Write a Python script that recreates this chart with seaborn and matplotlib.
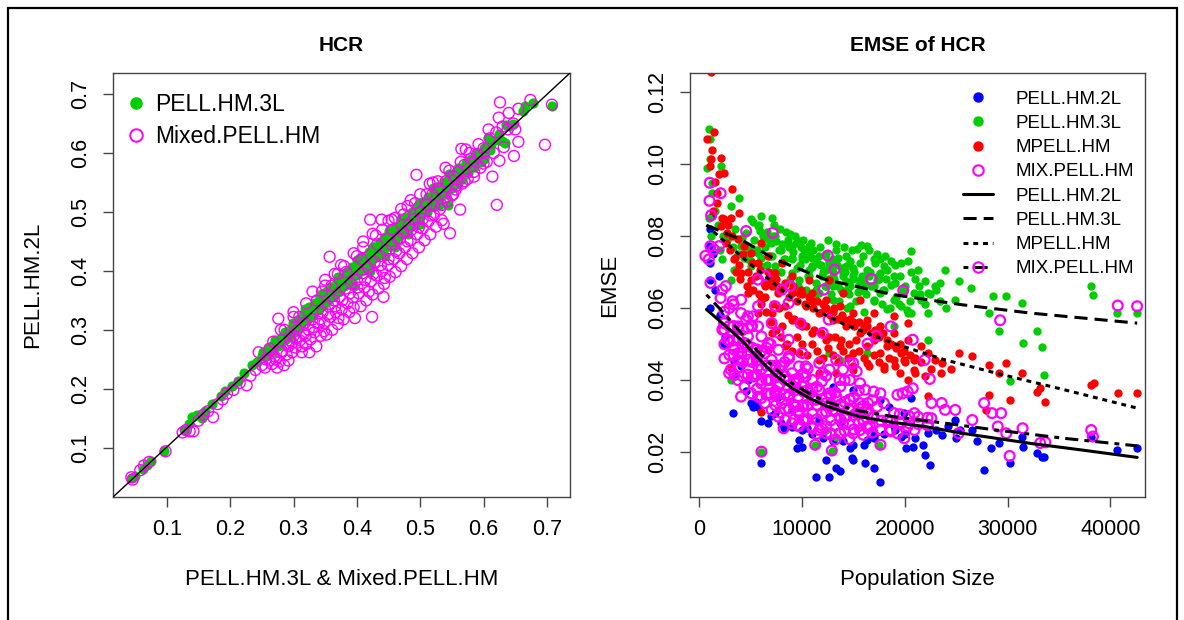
import matplotlib
matplotlib.use("Agg")
import matplotlib.pyplot as plt
import matplotlib.patches as mpatches
from matplotlib.lines import Line2D
import seaborn as sns

# ---------------- data: left panel (HCR) ----------------
hcr3l_x = [0.045, 0.050, 0.062, 0.068, 0.075, 0.096, 0.128, 0.135, 0.140, 0.148, 0.155, 0.160, 0.172, 0.185,
           0.192, 0.203, 0.212, 0.222, 0.235, 0.243, 0.250, 0.256, 0.260, 0.264, 0.268, 0.272, 0.276, 0.280,
           0.284, 0.288, 0.292, 0.296, 0.300, 0.303, 0.306, 0.310, 0.313, 0.316, 0.320, 0.323, 0.327, 0.330,
           0.333, 0.336, 0.340, 0.343, 0.346, 0.350, 0.353, 0.356, 0.360, 0.363, 0.366, 0.370, 0.373, 0.376,
           0.380, 0.383, 0.386, 0.390, 0.393, 0.396, 0.400, 0.403, 0.406, 0.410, 0.413, 0.416, 0.420, 0.423,
           0.426, 0.430, 0.433, 0.436, 0.440, 0.443, 0.446, 0.450, 0.453, 0.456, 0.460, 0.463, 0.466, 0.470,
           0.473, 0.476, 0.480, 0.483, 0.486, 0.490, 0.493, 0.496, 0.500, 0.503, 0.506, 0.510, 0.513, 0.516,
           0.520, 0.523, 0.526, 0.530, 0.533, 0.536, 0.540, 0.544, 0.546, 0.550, 0.554, 0.558, 0.562, 0.566,
           0.570, 0.575, 0.580, 0.585, 0.590, 0.596, 0.600, 0.604, 0.607, 0.612, 0.618, 0.625, 0.629, 0.634,
           0.636, 0.640, 0.646, 0.663, 0.666, 0.678, 0.708,
           0.318, 0.345, 0.370, 0.400, 0.425, 0.450, 0.470, 0.500, 0.520, 0.545, 0.560,
           0.395, 0.420, 0.445, 0.480, 0.500, 0.530, 0.460,
           0.252, 0.257, 0.262, 0.267, 0.271, 0.276, 0.281, 0.286, 0.290, 0.295, 0.299, 0.304, 0.308, 0.312,
           0.317, 0.321, 0.325, 0.329, 0.334, 0.338, 0.342, 0.347, 0.351, 0.355, 0.359, 0.364, 0.368, 0.372,
           0.376, 0.381, 0.385, 0.389, 0.393, 0.398, 0.402, 0.406, 0.410, 0.415, 0.419, 0.423, 0.427, 0.432,
           0.436, 0.440, 0.444, 0.449, 0.453, 0.457, 0.461, 0.466, 0.470, 0.474, 0.478, 0.483, 0.487, 0.491,
           0.495, 0.500, 0.504, 0.508, 0.512, 0.517, 0.521, 0.525, 0.529, 0.534, 0.538, 0.542, 0.546, 0.551,
           0.555, 0.559, 0.563, 0.568, 0.572, 0.576, 0.580, 0.585, 0.590, 0.595, 0.600, 0.610]
hcr3l_y = [0.048, 0.052, 0.064, 0.070, 0.078, 0.095, 0.130, 0.140, 0.152, 0.155, 0.150, 0.163, 0.175, 0.188,
           0.196, 0.205, 0.214, 0.226, 0.240, 0.246, 0.256, 0.262, 0.266, 0.262, 0.274, 0.278, 0.272, 0.286,
           0.290, 0.284, 0.298, 0.300, 0.296, 0.309, 0.312, 0.305, 0.318, 0.322, 0.316, 0.329, 0.332, 0.326,
           0.340, 0.342, 0.336, 0.349, 0.352, 0.346, 0.360, 0.362, 0.355, 0.369, 0.372, 0.364, 0.380, 0.383,
           0.374, 0.390, 0.392, 0.384, 0.400, 0.402, 0.394, 0.410, 0.412, 0.404, 0.420, 0.422, 0.412, 0.430,
           0.432, 0.424, 0.440, 0.442, 0.432, 0.450, 0.452, 0.442, 0.460, 0.462, 0.452, 0.470, 0.472, 0.462,
           0.480, 0.482, 0.470, 0.490, 0.492, 0.480, 0.500, 0.502, 0.490, 0.510, 0.512, 0.500, 0.520, 0.522,
           0.510, 0.530, 0.532, 0.520, 0.540, 0.542, 0.530, 0.512, 0.552, 0.540, 0.560, 0.548, 0.568, 0.556,
           0.575, 0.566, 0.585, 0.577, 0.594, 0.584, 0.590, 0.604, 0.625, 0.615, 0.622, 0.632, 0.620, 0.617,
           0.648, 0.645, 0.650, 0.672, 0.680, 0.684, 0.680,
           0.335, 0.360, 0.390, 0.418, 0.440, 0.468, 0.488, 0.515, 0.540, 0.565, 0.575,
           0.375, 0.400, 0.425, 0.462, 0.480, 0.512, 0.440,
           0.262, 0.255, 0.270, 0.262, 0.283, 0.281, 0.276, 0.296, 0.293, 0.289, 0.312, 0.302, 0.318, 0.309,
           0.327, 0.316, 0.338, 0.326, 0.346, 0.333, 0.356, 0.343, 0.364, 0.350, 0.372, 0.358, 0.381, 0.366,
           0.390, 0.376, 0.398, 0.385, 0.407, 0.393, 0.415, 0.400, 0.424, 0.409, 0.432, 0.418, 0.441, 0.426,
           0.449, 0.435, 0.458, 0.443, 0.466, 0.451, 0.474, 0.460, 0.483, 0.468, 0.491, 0.477, 0.500, 0.485,
           0.508, 0.494, 0.517, 0.502, 0.525, 0.511, 0.534, 0.519, 0.542, 0.528, 0.550, 0.536, 0.558, 0.545,
           0.566, 0.553, 0.575, 0.562, 0.583, 0.570, 0.590, 0.580, 0.600, 0.590, 0.608, 0.605]

mix_x = [0.044, 0.046, 0.058, 0.064, 0.072, 0.098, 0.125, 0.130, 0.136, 0.142, 0.150, 0.158, 0.165, 0.173,
         0.180, 0.188, 0.195, 0.205, 0.215, 0.226, 0.232, 0.240, 0.250, 0.256, 0.262, 0.266, 0.270, 0.274,
         0.278, 0.282, 0.285, 0.289, 0.276, 0.292, 0.295, 0.298, 0.300, 0.303, 0.306, 0.310, 0.313, 0.316,
         0.318, 0.320, 0.324, 0.327, 0.330, 0.333, 0.336, 0.340, 0.343, 0.346, 0.349, 0.352, 0.355, 0.357,
         0.358, 0.361, 0.364, 0.367, 0.370, 0.373, 0.376, 0.379, 0.382, 0.385, 0.388, 0.391, 0.394, 0.397,
         0.400, 0.403, 0.406, 0.409, 0.412, 0.415, 0.418, 0.421, 0.422, 0.424, 0.425, 0.428, 0.431, 0.434,
         0.437, 0.439, 0.440, 0.442, 0.443, 0.446, 0.449, 0.452, 0.455, 0.458, 0.461, 0.464, 0.467, 0.470,
         0.473, 0.476, 0.479, 0.482, 0.485, 0.488, 0.491, 0.494, 0.495, 0.498, 0.501, 0.504, 0.507, 0.510,
         0.513, 0.516, 0.519, 0.522, 0.525, 0.528, 0.531, 0.534, 0.537, 0.540, 0.543, 0.547, 0.550, 0.553,
         0.556, 0.560, 0.563, 0.565, 0.566, 0.570, 0.572, 0.575, 0.580, 0.585, 0.590, 0.595, 0.600, 0.605,
         0.610, 0.614, 0.620, 0.621, 0.625, 0.626, 0.630, 0.638, 0.647, 0.648, 0.655, 0.655, 0.674, 0.697,
         0.708,
         0.320, 0.345, 0.370, 0.400, 0.430, 0.460, 0.480, 0.500, 0.520, 0.540, 0.350, 0.380, 0.410, 0.450,
         0.245, 0.280, 0.300,
         0.255, 0.262, 0.268, 0.272, 0.280, 0.286, 0.292, 0.298, 0.304, 0.309, 0.314, 0.319, 0.325, 0.331,
         0.337, 0.342, 0.348, 0.354, 0.360, 0.366, 0.371, 0.377, 0.383, 0.389, 0.395, 0.401, 0.407, 0.413,
         0.419, 0.426, 0.432, 0.438, 0.444, 0.450, 0.456, 0.462, 0.468, 0.474, 0.480, 0.486, 0.492, 0.498,
         0.504, 0.510, 0.516, 0.522, 0.528, 0.534, 0.540, 0.546, 0.552, 0.558, 0.564, 0.570, 0.578, 0.585,
         0.592, 0.600, 0.608, 0.616, 0.624, 0.632, 0.640, 0.650, 0.300, 0.330, 0.365, 0.395, 0.425, 0.455,
         0.485, 0.515, 0.440, 0.410, 0.375, 0.470, 0.350]
mix_y = [0.050, 0.046, 0.062, 0.070, 0.076, 0.094, 0.126, 0.130, 0.128, 0.128, 0.146, 0.156, 0.162, 0.152,
         0.174, 0.182, 0.192, 0.198, 0.210, 0.206, 0.222, 0.232, 0.240, 0.250, 0.268, 0.242, 0.255, 0.236,
         0.246, 0.264, 0.240, 0.258, 0.319, 0.272, 0.282, 0.262, 0.290, 0.270, 0.300, 0.282, 0.262, 0.294,
         0.312, 0.276, 0.300, 0.284, 0.318, 0.296, 0.272, 0.310, 0.290, 0.330, 0.312, 0.292, 0.340, 0.424,
         0.322, 0.300, 0.350, 0.330, 0.310, 0.356, 0.335, 0.318, 0.370, 0.345, 0.330, 0.378, 0.355, 0.320,
         0.385, 0.362, 0.340, 0.396, 0.372, 0.350, 0.405, 0.487, 0.382, 0.322, 0.360, 0.415, 0.392, 0.370,
         0.425, 0.487, 0.400, 0.356, 0.378, 0.435, 0.410, 0.390, 0.445, 0.420, 0.398, 0.455, 0.430, 0.408,
         0.465, 0.440, 0.420, 0.478, 0.452, 0.430, 0.488, 0.563, 0.462, 0.440, 0.500, 0.472, 0.452, 0.512,
         0.484, 0.462, 0.530, 0.495, 0.475, 0.540, 0.505, 0.486, 0.480, 0.552, 0.518, 0.464, 0.528, 0.560,
         0.538, 0.568, 0.504, 0.607, 0.548, 0.580, 0.606, 0.556, 0.590, 0.568, 0.598, 0.575, 0.608, 0.585,
         0.625, 0.560, 0.635, 0.512, 0.587, 0.686, 0.645, 0.640, 0.650, 0.595, 0.675, 0.619, 0.690, 0.614,
         0.682,
         0.345, 0.365, 0.395, 0.425, 0.460, 0.490, 0.510, 0.530, 0.550, 0.575, 0.375, 0.408, 0.440, 0.485,
         0.262, 0.300, 0.322,
         0.236, 0.248, 0.280, 0.250, 0.262, 0.300, 0.248, 0.278, 0.286, 0.322, 0.272, 0.290, 0.262, 0.305,
         0.350, 0.318, 0.298, 0.326, 0.375, 0.340, 0.320, 0.350, 0.398, 0.362, 0.338, 0.372, 0.420, 0.385,
         0.365, 0.395, 0.445, 0.410, 0.388, 0.420, 0.470, 0.434, 0.455, 0.496, 0.450, 0.470, 0.515, 0.474,
         0.488, 0.530, 0.494, 0.510, 0.552, 0.512, 0.525, 0.570, 0.530, 0.545, 0.585, 0.552, 0.600, 0.560,
         0.615, 0.582, 0.640, 0.600, 0.660, 0.610, 0.668, 0.640, 0.330, 0.365, 0.395, 0.430, 0.463, 0.487,
         0.520, 0.548, 0.470, 0.450, 0.410, 0.505, 0.385]

# ---------------- data: right panel (EMSE of HCR) ----------------
pop_2l = [926, 1091, 1091, 1025, 1918, 1256, 2282, 3241, 5060, 5225, 6052, 6647, 6052, 8202, 9690, 9524,
          10020, 10516, 11343, 12335, 12666, 13328, 13659, 14650, 14816, 14981, 16138, 16965, 17627, 16304,
          16965, 18454, 19942, 20603, 20107, 20768, 21761, 21926, 22422, 23579, 24903, 25399, 26556, 27714,
          28375, 29202, 30194, 31352, 31517, 32840, 33336, 33502, 40610, 42594, 38130,
          4068, 3406, 4729, 7705, 9028, 11012, 12997, 14981, 17627, 18950, 19611, 11674, 13659, 7375, 5721,
          15642, 22256, 24241,
          3500, 4500, 5500, 7000, 8000, 9000, 10000, 11000, 12000, 13000, 14000, 15000, 16000, 17000,
          18000, 19000, 20000, 21000, 23000, 25000, 27000, 1500, 2000, 2500, 1300, 1000]
emse_2l = [0.0772, 0.0726, 0.0679, 0.0601, 0.0688, 0.0856, 0.0496, 0.0308, 0.0336, 0.0326, 0.0285, 0.0280,
           0.0169, 0.0266, 0.0234, 0.0210, 0.0215, 0.0266, 0.0131, 0.0178, 0.0131, 0.0155, 0.0146, 0.0210,
           0.0183, 0.0178, 0.0169, 0.0155, 0.0118, 0.0234, 0.0248, 0.0326, 0.0308, 0.0350, 0.0210, 0.0215,
           0.0220, 0.0192, 0.0164, 0.0248, 0.0289, 0.0261, 0.0261, 0.0150, 0.0210, 0.0224, 0.0169, 0.0243,
           0.0215, 0.0197, 0.0187, 0.0187, 0.0206, 0.0210, 0.0243,
           0.0438, 0.0452, 0.0400, 0.0354, 0.0317, 0.0363, 0.0382, 0.0373, 0.0345, 0.0271, 0.0243, 0.0289,
           0.0280, 0.0308, 0.0326, 0.0308, 0.0252, 0.0271,
           0.0410, 0.0370, 0.0340, 0.0300, 0.0280, 0.0270, 0.0260, 0.0250, 0.0240, 0.0230, 0.0230, 0.0220,
           0.0220, 0.0240, 0.0250, 0.0260, 0.0250, 0.0240, 0.0260, 0.0240, 0.0230, 0.0650, 0.0580, 0.0520,
           0.0750, 0.0820]

pop_3l = [926, 1091, 760, 1091, 1256, 2083, 3075, 3902, 4564, 5060, 5721, 6052, 7044, 6713, 7375, 8036,
          8863, 9028, 9690, 10020, 10682, 11012, 11674, 12335, 12997, 13328, 13989, 14320, 14981, 15312,
          15642, 16304, 16965, 17296, 17627, 17958, 18619, 18950, 19611, 19777, 20603, 20934, 21926, 22256,
          22918, 23414, 23910, 24903, 25233, 26391, 28540, 29863, 28210, 29202, 31352, 31517, 32840, 33336,
          33502, 30194, 38130, 38295, 40610, 42594,
          17627, 18950, 20272, 21595, 13989, 12335, 10682, 9028, 7375, 5721, 5060, 4068, 3406, 3075, 2249,
          8367, 9690, 11343, 12997, 14650, 15973, 16965, 18288, 19611, 20603, 22256, 18950, 22256, 16304,
          13659, 12666, 11674, 10020, 7705, 6713, 6052, 4729, 7044, 9028, 10682, 12997, 14320, 15642, 17627,
          14650, 12666,
          3075, 6052, 11277, 12897, 17527, 13328, 12335,
          3500, 4200, 4800, 5300, 5900, 6400, 6900, 7300, 7800, 8200, 8600, 9100, 9500, 9900, 10300, 10700,
          11100, 11500, 11900, 12300, 12700, 13100, 13500, 13900, 14300, 14700, 15100, 15500, 15900, 16300,
          16700, 17100, 17500, 17900, 18300, 18700, 19100, 19500, 20000, 20500, 21000, 21500, 22000, 23000,
          24000, 8000, 8800, 9600, 10400, 11200, 12000, 12800, 13600, 14400, 15200, 16000, 6000, 6600, 7200,
          5000, 4400, 3800, 3300, 2700, 2300, 1800, 1500, 1200, 900, 1100, 2000, 8400, 9300, 10100, 10900,
          11700, 12500, 13300, 14100, 14900, 15700, 16500, 17300, 18100, 7500, 6200, 5600, 9800, 10600,
          11400, 12200, 13000, 13800, 14600, 15400, 16200, 17000, 17800, 18600, 19400, 20200, 19000, 20300,
          21300,
          5200, 5800, 6600, 7200, 7900, 8700, 9400, 10200, 11000, 11800, 12600, 13400, 14200, 15000, 15800,
          16600, 17400, 18200, 19000, 19800, 20600, 21400, 22400, 23400, 9000, 10000, 11000, 12000, 13000,
          14000, 15000, 16000, 17000, 18000, 12500, 13500, 14500, 16500, 8000, 7000]
emse_3l = [0.1097, 0.1069, 0.0990, 0.1013, 0.0948, 0.0995, 0.0884, 0.0907, 0.0809, 0.0846, 0.0828, 0.0856,
           0.0851, 0.0791, 0.0800, 0.0777, 0.0805, 0.0772, 0.0786, 0.0735, 0.0753, 0.0716, 0.0744, 0.0707,
           0.0735, 0.0777, 0.0698, 0.0744, 0.0688, 0.0763, 0.0726, 0.0772, 0.0735, 0.0679, 0.0698, 0.0716,
           0.0730, 0.0688, 0.0726, 0.0642, 0.0758, 0.0642, 0.0675, 0.0642, 0.0661, 0.0670, 0.0707, 0.0623,
           0.0675, 0.0656, 0.0633, 0.0633, 0.0586, 0.0535, 0.0614, 0.0503, 0.0535, 0.0493, 0.0415, 0.0396,
           0.0661, 0.0637, 0.0586, 0.0586,
           0.0642, 0.0623, 0.0586, 0.0623, 0.0642, 0.0661, 0.0688, 0.0698, 0.0716, 0.0753, 0.0716, 0.0772,
           0.0707, 0.0679, 0.0735, 0.0735, 0.0679, 0.0651, 0.0623, 0.0605, 0.0651, 0.0623, 0.0596, 0.0605,
           0.0586, 0.0586, 0.0549, 0.0512, 0.0475, 0.0456, 0.0475, 0.0642, 0.0642, 0.0651, 0.0679, 0.0716,
           0.0735, 0.0744, 0.0735, 0.0772, 0.0688, 0.0716, 0.0679, 0.0735, 0.0661, 0.0726,
           0.0400, 0.0201, 0.0220, 0.0204, 0.0220, 0.0243, 0.0261,
           0.0820, 0.0795, 0.0760, 0.0790, 0.0815, 0.0770, 0.0745, 0.0830, 0.0760, 0.0735, 0.0790, 0.0755,
           0.0710, 0.0770, 0.0735, 0.0705, 0.0760, 0.0725, 0.0690, 0.0750, 0.0715, 0.0680, 0.0740, 0.0710,
           0.0675, 0.0730, 0.0700, 0.0665, 0.0745, 0.0705, 0.0660, 0.0725, 0.0680, 0.0650, 0.0705, 0.0665,
           0.0630, 0.0690, 0.0660, 0.0620, 0.0680, 0.0640, 0.0610, 0.0650, 0.0600, 0.0700, 0.0680, 0.0660,
           0.0650, 0.0630, 0.0610, 0.0640, 0.0620, 0.0600, 0.0620, 0.0590, 0.0740, 0.0720, 0.0700, 0.0730,
           0.0740, 0.0750, 0.0770, 0.0790, 0.0800, 0.0830, 0.0870, 0.0920, 0.0850, 0.0800, 0.0760, 0.0810,
           0.0800, 0.0790, 0.0780, 0.0770, 0.0790, 0.0760, 0.0770, 0.0760, 0.0775, 0.0760, 0.0750, 0.0745,
           0.0785, 0.0800, 0.0760, 0.0720, 0.0690, 0.0670, 0.0660, 0.0660, 0.0650, 0.0640, 0.0645, 0.0640,
           0.0620, 0.0610, 0.0600, 0.0610, 0.0595, 0.0720, 0.0730, 0.0705,
           0.0840, 0.0830, 0.0810, 0.0800, 0.0820, 0.0770, 0.0780, 0.0760, 0.0740, 0.0720, 0.0730, 0.0720,
           0.0700, 0.0710, 0.0690, 0.0700, 0.0690, 0.0680, 0.0670, 0.0650, 0.0700, 0.0660, 0.0640, 0.0620,
           0.0740, 0.0745, 0.0715, 0.0700, 0.0700, 0.0690, 0.0680, 0.0670, 0.0660, 0.0650, 0.0680, 0.0660,
           0.0655, 0.0690, 0.0760, 0.0780]

pop_mp = [1157, 1422, 760, 1256, 1157, 1091, 2083, 2414, 1918, 3175, 1753, 3902, 3075, 2414, 2083, 2745,
          3737, 4398, 5060, 6052, 5721, 6713, 7375, 8036, 9028, 9690, 7705, 6382, 5060, 4068, 3406, 6052,
          7044, 8367, 10351, 11012, 11674, 12335, 12997, 13659, 14320, 14981, 15642, 16304, 16965, 17627,
          18288, 18950, 19611, 20272, 20934, 21595, 22256, 22918, 23579, 25233, 26556, 28210, 29202, 29863,
          31352, 32840, 33171, 33667, 30194, 28210, 27879, 38130, 38394, 40775, 42594, 22256, 20272, 18950,
          17627, 16304, 14981, 13659, 12335, 11012, 10020, 9028, 8036, 7044, 6713, 8367, 9690, 11674, 13328,
          14981, 11674, 19942, 20934, 21926, 17958, 16304, 5721, 4729, 9028, 10682, 12666, 13989, 15642,
          16965, 18950, 20272, 3075, 6052,
          2600, 3000, 3500, 3900, 4300, 4700, 5100, 5500, 5900, 6300, 6700, 7100, 7500, 7900, 8300, 8700,
          9100, 9500, 9900, 10300, 10700, 11100, 11500, 11900, 12300, 12700, 13100, 13500, 13900, 14300,
          14700, 15100, 15500, 15900, 16300, 16700, 17100, 17500, 17900, 18300, 18700, 19100, 19500, 19900,
          20500, 21000, 21600, 6000, 6500, 7000, 7500, 8000, 8500, 9000, 9500, 10000, 10500, 11000, 11500,
          12000, 12500, 13000, 13500, 14000, 14500, 15000, 15500, 16000, 16500, 17000, 17500, 18000, 18500,
          19000, 19500, 20000, 5200, 5800, 6400, 7200, 7800, 8600, 9200, 9800, 10400, 11200, 11800, 12600,
          13200, 13800, 14600, 15200, 4000, 4600, 3600, 3200, 2800, 2200, 1500, 1300, 1700, 8200, 9000,
          10000, 11000, 12000, 13000, 14000, 15000, 16000, 17000, 6800, 7600, 22500, 23500, 24500, 21000]
emse_mp = [0.1255, 0.1090, 0.1069, 0.1039, 0.1013, 0.0995, 0.1018, 0.0976, 0.0972, 0.0932, 0.0893, 0.0865,
           0.0851, 0.0846, 0.0828, 0.0809, 0.0791, 0.0772, 0.0753, 0.0781, 0.0726, 0.0744, 0.0698, 0.0726,
           0.0688, 0.0642, 0.0642, 0.0661, 0.0679, 0.0698, 0.0735, 0.0623, 0.0586, 0.0605, 0.0605, 0.0642,
           0.0586, 0.0623, 0.0568, 0.0605, 0.0549, 0.0586, 0.0531, 0.0568, 0.0512, 0.0549, 0.0494, 0.0531,
           0.0475, 0.0512, 0.0456, 0.0494, 0.0475, 0.0456, 0.0447, 0.0475, 0.0466, 0.0442, 0.0419, 0.0447,
           0.0419, 0.0368, 0.0377, 0.0340, 0.0345, 0.0359, 0.0317, 0.0387, 0.0393, 0.0363, 0.0365, 0.0355,
           0.0400, 0.0456, 0.0475, 0.0494, 0.0475, 0.0494, 0.0512, 0.0531, 0.0549, 0.0568, 0.0549, 0.0531,
           0.0484, 0.0494, 0.0475, 0.0456, 0.0419, 0.0428, 0.0419, 0.0456, 0.0428, 0.0410, 0.0438, 0.0447,
           0.0586, 0.0642, 0.0642, 0.0679, 0.0679, 0.0642, 0.0623, 0.0586, 0.0577, 0.0559, 0.0433, 0.0312,
           0.0780, 0.0760, 0.0740, 0.0720, 0.0750, 0.0700, 0.0725, 0.0690, 0.0705, 0.0670, 0.0700, 0.0660,
           0.0680, 0.0650, 0.0670, 0.0630, 0.0660, 0.0620, 0.0650, 0.0610, 0.0630, 0.0600, 0.0620, 0.0590,
           0.0600, 0.0580, 0.0600, 0.0570, 0.0580, 0.0560, 0.0570, 0.0550, 0.0560, 0.0540, 0.0550, 0.0530,
           0.0540, 0.0520, 0.0530, 0.0510, 0.0500, 0.0490, 0.0500, 0.0480, 0.0470, 0.0460, 0.0450, 0.0610,
           0.0590, 0.0560, 0.0540, 0.0520, 0.0500, 0.0480, 0.0520, 0.0500, 0.0470, 0.0500, 0.0480, 0.0460,
           0.0490, 0.0470, 0.0450, 0.0480, 0.0460, 0.0440, 0.0480, 0.0460, 0.0440, 0.0470, 0.0450, 0.0430,
           0.0460, 0.0440, 0.0420, 0.0450, 0.0650, 0.0640, 0.0630, 0.0610, 0.0600, 0.0580, 0.0570, 0.0560,
           0.0550, 0.0540, 0.0530, 0.0520, 0.0520, 0.0510, 0.0500, 0.0510, 0.0680, 0.0660, 0.0700, 0.0800,
           0.0830, 0.0850, 0.0950, 0.0870, 0.0920, 0.0660, 0.0650, 0.0640, 0.0620, 0.0610, 0.0590, 0.0570,
           0.0560, 0.0550, 0.0530, 0.0680, 0.0660, 0.0430, 0.0420, 0.0430, 0.0420]

pop_mix = [1025, 2083, 992, 1157, 4564, 7143, 595, 1091, 1422, 1918, 926, 1091, 2249, 2579, 2083, 3241,
           4068, 5721, 6382, 7375, 8036, 8863, 8698, 12500, 13162, 12103, 16734, 19842, 9855, 12600, 12004,
           18619, 17230, 16370, 20768, 21926, 22422, 29269, 40709, 42594, 27714, 28475, 29368, 29037, 31451,
           30194, 33171, 33667, 38130, 38295, 29863, 24903, 23579, 22587, 23910, 20768, 19777, 20272, 19280,
           17627, 16965, 20934, 22587, 26556, 25233, 19942, 17627, 6052, 11277, 12897, 8202, 9690,
           3075, 3406, 2910, 3737, 4068, 4398, 4729, 5060, 4564, 5225, 5721, 6052, 5390, 4894, 5721, 6382,
           6713, 7044, 7375, 7705, 8036, 8367, 8698, 9028, 9359, 9690, 10020, 10351, 10682, 11012, 11343,
           11674, 12004, 12335, 12666, 12997, 13328, 13659, 13989, 14320, 14650, 14981, 15312, 15642, 15973,
           16304, 16634, 16965, 18288, 18950, 19611, 20272, 20934, 22256, 3737, 4398, 5060, 5721, 6382, 7044,
           7705, 8367, 9028, 9690, 10351, 11012, 11674, 12335, 13659, 14981, 15642, 6713, 7705, 8698, 9359,
           10020, 5390, 6052, 6713, 7375, 8036, 4068, 2414, 2249, 2745, 3406, 3737, 4068, 4729, 5721, 7044,
           7705, 8698, 10020, 10351, 11674, 12666, 13989, 14650, 15642, 16138, 13328, 14650, 15312, 17296,
           17958, 18619, 19280, 13989, 16304, 17627,
           2450, 2450, 2450, 2450, 2920, 2920, 2920, 2920, 3330, 3330, 3330, 3330, 3810, 3810, 3810, 3810,
           4240, 4240, 4240, 4240, 4720, 4720, 4720, 4720, 5140, 5140, 5140, 5140, 5610, 5610, 5610, 5610,
           6040, 6040, 6040, 6040, 6520, 6520, 6520, 6520, 6940, 6940, 6940, 6940, 7410, 7410, 7410, 7410,
           7840, 7840, 7840, 7840, 8320, 8320, 8320, 8320, 8740, 8740, 8740, 8740, 9210, 9210, 9210, 9210,
           9640, 9640, 9640, 9640, 10120, 10120, 10120, 10120, 10540, 10540, 10540, 10540, 11010, 11010,
           11010, 11010, 11440, 11440, 11440, 11440, 11920, 11920, 11920, 11920, 12340, 12340, 12340, 12340,
           12810, 12810, 12810, 12810, 13240, 13240, 13240, 13240, 13720, 13720, 13720, 13720, 14140, 14140,
           14140, 14140, 14610, 14610, 14610, 14610, 15040, 15040, 15040, 15520, 15520, 15520, 15940, 15940,
           15940, 16410, 16410, 16410, 16840, 16840, 16840, 17700, 17700, 18600, 18600, 19500, 19500, 20400,
           20400, 21300, 21300, 22200, 22200]
emse_mix = [0.0948, 0.0919, 0.0898, 0.0858, 0.0814, 0.0809, 0.0745, 0.0772, 0.0763, 0.0772, 0.0735, 0.0670,
            0.0651, 0.0661, 0.0628, 0.0619, 0.0623, 0.0679, 0.0690, 0.0605, 0.0651, 0.0661, 0.0614, 0.0746,
            0.0707, 0.0651, 0.0681, 0.0649, 0.0557, 0.0568, 0.0531, 0.0549, 0.0523, 0.0501, 0.0512, 0.0456,
            0.0403, 0.0566, 0.0607, 0.0605, 0.0336, 0.0308, 0.0308, 0.0271, 0.0266, 0.0189, 0.0225, 0.0227,
            0.0261, 0.0243, 0.0252, 0.0317, 0.0336, 0.0336, 0.0317, 0.0377, 0.0363, 0.0368, 0.0359, 0.0363,
            0.0368, 0.0308, 0.0294, 0.0289, 0.0252, 0.0238, 0.0220, 0.0201, 0.0220, 0.0204, 0.0266, 0.0271,
            0.0429, 0.0415, 0.0419, 0.0456, 0.0475, 0.0503, 0.0521, 0.0549, 0.0568, 0.0577, 0.0549, 0.0521,
            0.0484, 0.0456, 0.0438, 0.0475, 0.0503, 0.0456, 0.0429, 0.0484, 0.0438, 0.0410, 0.0466, 0.0419,
            0.0391, 0.0438, 0.0382, 0.0410, 0.0363, 0.0400, 0.0345, 0.0373, 0.0419, 0.0336, 0.0363, 0.0317,
            0.0354, 0.0400, 0.0326, 0.0298, 0.0345, 0.0447, 0.0308, 0.0336, 0.0289, 0.0317, 0.0271, 0.0298,
            0.0289, 0.0308, 0.0280, 0.0271, 0.0261, 0.0275, 0.0400, 0.0382, 0.0363, 0.0354, 0.0336, 0.0317,
            0.0298, 0.0289, 0.0280, 0.0308, 0.0289, 0.0271, 0.0261, 0.0252, 0.0252, 0.0252, 0.0261, 0.0363,
            0.0382, 0.0354, 0.0326, 0.0326, 0.0410, 0.0400, 0.0400, 0.0363, 0.0336, 0.0354, 0.0558, 0.0540,
            0.0512, 0.0484, 0.0549, 0.0586, 0.0577, 0.0605, 0.0558, 0.0531, 0.0512, 0.0475, 0.0438, 0.0447,
            0.0429, 0.0429, 0.0400, 0.0391, 0.0373, 0.0456, 0.0447, 0.0424, 0.0326, 0.0336, 0.0261, 0.0252,
            0.0280, 0.0271, 0.0261,
            0.0540, 0.0500, 0.0460, 0.0590, 0.0550, 0.0510, 0.0470, 0.0600, 0.0510, 0.0470, 0.0550, 0.0610,
            0.0515, 0.0475, 0.0435, 0.0545, 0.0490, 0.0450, 0.0410, 0.0540, 0.0495, 0.0455, 0.0415, 0.0545,
            0.0450, 0.0410, 0.0490, 0.0550, 0.0455, 0.0415, 0.0375, 0.0485, 0.0430, 0.0390, 0.0350, 0.0480,
            0.0440, 0.0400, 0.0360, 0.0490, 0.0400, 0.0360, 0.0440, 0.0500, 0.0410, 0.0370, 0.0330, 0.0440,
            0.0390, 0.0350, 0.0310, 0.0440, 0.0400, 0.0360, 0.0320, 0.0450, 0.0360, 0.0320, 0.0400, 0.0460,
            0.0370, 0.0330, 0.0290, 0.0400, 0.0355, 0.0315, 0.0275, 0.0405, 0.0368, 0.0328, 0.0288, 0.0418,
            0.0332, 0.0292, 0.0372, 0.0432, 0.0346, 0.0306, 0.0266, 0.0376, 0.0331, 0.0291, 0.0251, 0.0381,
            0.0346, 0.0306, 0.0266, 0.0396, 0.0312, 0.0272, 0.0352, 0.0412, 0.0328, 0.0288, 0.0248, 0.0358,
            0.0315, 0.0275, 0.0235, 0.0365, 0.0332, 0.0292, 0.0252, 0.0382, 0.0299, 0.0259, 0.0339, 0.0399,
            0.0316, 0.0276, 0.0236, 0.0346, 0.0303, 0.0263, 0.0353, 0.0320, 0.0280, 0.0370, 0.0288, 0.0248,
            0.0328, 0.0306, 0.0266, 0.0336, 0.0294, 0.0254, 0.0344, 0.0287, 0.0262, 0.0284, 0.0258, 0.0283,
            0.0305, 0.0280, 0.0300, 0.0278, 0.0298, 0.0275, 0.0295]

# fitted curves
fit_x_2l = [700, 2400, 4070, 5720, 7375, 9030, 10680, 12330, 13990, 15640, 18950, 21920, 25600, 32200,
            37100, 42600]
fit_y_2l = [0.0596, 0.0554, 0.0512, 0.0461, 0.0414, 0.0377, 0.0350, 0.0328, 0.0312, 0.0298, 0.0282,
            0.0271, 0.0252, 0.0224, 0.0206, 0.0185]
fit_x_3l = [700, 4070, 7400, 12300, 18900, 25600, 32200, 42600]
fit_y_3l = [0.0830, 0.0790, 0.0735, 0.0679, 0.0637, 0.0609, 0.0586, 0.0558]
fit_x_mp = [700, 4070, 9000, 14000, 18900, 23900, 28900, 35500, 42600]
fit_y_mp = [0.0830, 0.0744, 0.0628, 0.0556, 0.0502, 0.0456, 0.0419, 0.0373, 0.0322]
fit_x_mix = [700, 2400, 4070, 5720, 7375, 9030, 10680, 12330, 13990, 15640, 18950, 22300, 28900, 35500,
             42600]
fit_y_mix = [0.0637, 0.0586, 0.0531, 0.0479, 0.0433, 0.0391, 0.0363, 0.0340, 0.0326, 0.0314, 0.0298,
             0.0286, 0.0261, 0.0238, 0.0217]

left_ticks = [0.1, 0.2, 0.3, 0.4, 0.5, 0.6, 0.7]
right_xticks = [0, 10000, 20000, 30000, 40000]
right_yticks = [0.02, 0.04, 0.06, 0.08, 0.10, 0.12]

# ---------------- styling ----------------
sns.set_theme(style="white")
plt.rcParams["font.family"] = ["Liberation Sans", "DejaVu Sans"]
plt.rcParams["text.color"] = "black"
plt.rcParams["axes.labelcolor"] = "black"
plt.rcParams["xtick.color"] = "#444444"
plt.rcParams["ytick.color"] = "#444444"
plt.rcParams["xtick.labelcolor"] = "black"
plt.rcParams["ytick.labelcolor"] = "black"

GREEN = "#00CD00"
MAGENTA = "#FF00FF"
BLUE = "#0000FF"
RED = "#FF0000"

W, H = 1184, 620
fig = plt.figure(figsize=(W / 100, H / 100), dpi=100)
axL = fig.add_axes([113 / W, 1 - 497 / H, (570 - 113) / W, (497 - 73) / H])
axR = fig.add_axes([690 / W, 1 - 497 / H, (1145 - 690) / W, (497 - 73) / H])

# outer frame
fig.patches.append(mpatches.Rectangle((8 / W, -0.05), (1177 - 8) / W, 1.05 - 8 / H,
                                      transform=fig.transFigure, fill=False,
                                      edgecolor="black", linewidth=1.6))

# ---- left panel ----
sns.scatterplot(x=hcr3l_x, y=hcr3l_y, ax=axL, color=GREEN, s=54, edgecolor=GREEN, linewidth=0, zorder=2)
sns.scatterplot(x=mix_x, y=mix_y, ax=axL, color=MAGENTA, facecolor="none", edgecolor=MAGENTA,
                s=62, linewidth=1.0, zorder=3)
axL.set_xlim(0.015, 0.7365)
axL.set_ylim(0.0165, 0.7357)
axL.plot([0, 1], [0, 1], transform=axL.transAxes, color="black", lw=1.0, zorder=4)

# ---- right panel ----
sns.scatterplot(x=pop_2l, y=emse_2l, ax=axR, color=BLUE, s=36, edgecolor=BLUE, linewidth=0, zorder=2)
sns.scatterplot(x=pop_3l, y=emse_3l, ax=axR, color=GREEN, s=36, edgecolor=GREEN, linewidth=0, zorder=2)
sns.scatterplot(x=pop_mp, y=emse_mp, ax=axR, color=RED, s=36, edgecolor=RED, linewidth=0, zorder=2)
sns.scatterplot(x=pop_mix, y=emse_mix, ax=axR, color=MAGENTA, facecolor="none", edgecolor=MAGENTA,
                s=50, linewidth=1.6, zorder=3)

LW = 2.2
ls_solid = "-"
ls_dash = (0, (4.3, 2.3))
ls_dot = (0, (1.6, 1.6))
ls_dashdot = (0, (1.6, 2.0, 4.3, 2.0))
for fx, fy, ls in ((fit_x_2l, fit_y_2l, ls_solid), (fit_x_3l, fit_y_3l, ls_dash),
                   (fit_x_mp, fit_y_mp, ls_dot), (fit_x_mix, fit_y_mix, ls_dashdot)):
    sns.lineplot(x=fx, y=fy, ax=axR, color="black", lw=LW, linestyle=ls,
                 estimator=None, sort=False, zorder=4)
axR.set_xlim(-900, 43360)
axR.set_ylim(0.0075, 0.1253)

# ---- axes cosmetics ----
TICK_FS = 15.5
for ax in (axL, axR):
    for sp in ax.spines.values():
        sp.set_visible(True)
        sp.set_color("#444444")
        sp.set_linewidth(1.0)
    ax.tick_params(axis="both", which="both", direction="out", length=7, width=1.0,
                   color="#444444", labelcolor="black", labelsize=TICK_FS, pad=9,
                   bottom=True, left=True)
    ax.grid(False)

axL.set_xticks(left_ticks)
axL.set_xticklabels([f"{v:.1f}" for v in left_ticks])
axL.set_yticks(left_ticks)
axL.set_yticklabels([f"{v:.1f}" for v in left_ticks], rotation=90, va="center")
axR.set_xticks(right_xticks)
axR.set_xticklabels([str(v) for v in right_xticks])
axR.set_yticks(right_yticks)
axR.set_yticklabels([f"{v:.2f}" for v in right_yticks], rotation=90, va="center")

LAB_FS = 16
axL.set_xlabel("PELL.HM.3L & Mixed.PELL.HM", fontsize=LAB_FS, labelpad=21, color="black")
axL.set_ylabel("PELL.HM.2L", fontsize=LAB_FS, labelpad=19, color="black")
axR.set_xlabel("Population Size", fontsize=LAB_FS, labelpad=21, color="black")
axR.set_ylabel("EMSE", fontsize=LAB_FS, labelpad=19, color="black")

axL.set_title("HCR", fontsize=15, fontweight="bold", pad=16, color="black")
axR.set_title("EMSE of HCR", fontsize=15, fontweight="bold", pad=16, color="black")

# ---- legends ----
hL = [Line2D([], [], marker="o", linestyle="none", markersize=8, markerfacecolor=GREEN,
             markeredgecolor=GREEN, label="PELL.HM.3L"),
      Line2D([], [], marker="o", linestyle="none", markersize=9, markerfacecolor="none",
             markeredgecolor=MAGENTA, markeredgewidth=1.4, label="Mixed.PELL.HM")]
axL.legend(handles=hL, loc="upper left", bbox_to_anchor=(0.0, 0.985), frameon=False,
           fontsize=16.5, handletextpad=0.45, labelspacing=0.38, handlelength=0.8, borderaxespad=0.2,
           labelcolor="black")

hR = [Line2D([], [], marker="o", linestyle="none", markersize=6.5, markerfacecolor=BLUE,
             markeredgecolor=BLUE, label="PELL.HM.2L"),
      Line2D([], [], marker="o", linestyle="none", markersize=6.5, markerfacecolor=GREEN,
             markeredgecolor=GREEN, label="PELL.HM.3L"),
      Line2D([], [], marker="o", linestyle="none", markersize=6.5, markerfacecolor=RED,
             markeredgecolor=RED, label="MPELL.HM"),
      Line2D([], [], marker="o", linestyle="none", markersize=7.5, markerfacecolor="none",
             markeredgecolor=MAGENTA, markeredgewidth=1.5, label="MIX.PELL.HM"),
      Line2D([], [], color="black", lw=LW, linestyle=ls_solid, label="PELL.HM.2L"),
      Line2D([], [], color="black", lw=LW, linestyle=ls_dash, label="PELL.HM.3L"),
      Line2D([], [], color="black", lw=LW, linestyle=ls_dot, label="MPELL.HM"),
      Line2D([], [], color="black", lw=LW, linestyle=ls_dashdot, marker="o", markersize=7.5,
             markerfacecolor="none", markeredgecolor=MAGENTA, markeredgewidth=1.5,
             label="MIX.PELL.HM")]
axR.legend(handles=hR, loc="upper right", bbox_to_anchor=(1.0, 0.985), frameon=False,
           fontsize=13.5, handletextpad=1.2, labelspacing=0.38, handlelength=1.6, borderaxespad=0.2,
           labelcolor="black")

fig.savefig("out.png", dpi=100)
